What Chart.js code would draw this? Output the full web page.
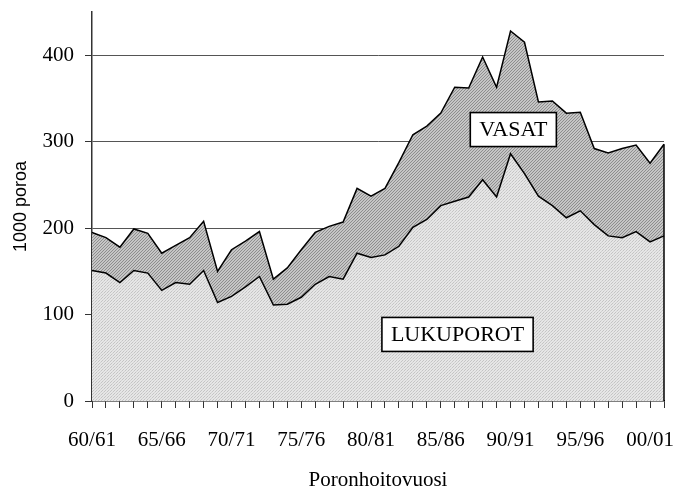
<!DOCTYPE html>
<html>
<head>
<meta charset="utf-8">
<script src="https://cdn.jsdelivr.net/npm/chart.js@4/dist/chart.umd.min.js"></script>
<style>
  html, body { margin: 0; padding: 0; background: #ffffff; }
  #wrap { width: 677px; height: 491px; }
</style>
</head>
<body>
<div id="wrap"><canvas id="c" width="677" height="491"></canvas></div>
<script>
// Poronhoitovuodet 1960/61 - 2001/02
const seasons = ['60/61','61/62','62/63','63/64','64/65','65/66','66/67','67/68','68/69','69/70',
                 '70/71','71/72','72/73','73/74','74/75','75/76','76/77','77/78','78/79','79/80',
                 '80/81','81/82','82/83','83/84','84/85','85/86','86/87','87/88','88/89','89/90',
                 '90/91','91/92','92/93','93/94','94/95','95/96','96/97','97/98','98/99','99/00',
                 '00/01','01/02'];
// Lukuporot (1000 poroa)
const lukuporot = [151,148,137,151,148,128,137,135,151,114,
                   121,132,144,111,112,120,135,144,141,171,
                   166,169,179,201,210,226,231,236,256,236,
                   286,263,237,226,212,220,204,191,189,196,
                   184,191];
// Vasat (1000 poroa), stacked on top of lukuporot
const vasat = [44,41,41,48,46,43,43,54,57,36,
               54,53,52,30,42,55,60,58,66,75,
               71,77,97,107,108,107,132,126,142,127,
               142,152,109,121,121,114,88,96,103,100,
               91,106];
const yTicks = [0,100,200,300,400];
const areaLabels = [
  { text: 'LUKUPOROT', x: 26.2, y: 77 },
  { text: 'VASAT', x: 30.2, y: 314 }
];

function makePattern(kind) {
  const t = document.createElement('canvas');
  const g = t.getContext('2d');
  if (kind === 'dots') {
    t.width = 3; t.height = 3;
    g.fillStyle = '#e6e6e6'; g.fillRect(0, 0, 3, 3);
    g.fillStyle = '#c4c4c4';
    g.fillRect(0, 0, 1, 1);
    g.fillRect(2, 1, 1, 1);
    g.fillStyle = '#d2d2d2';
    g.fillRect(1, 2, 1, 1);
  } else {
    t.width = 3; t.height = 3;
    g.fillStyle = '#c6c6c6'; g.fillRect(0, 0, 3, 3);
    g.fillStyle = '#8e8e8e';
    for (let i = 0; i < 3; i++) { g.fillRect(i, 2 - i, 1, 1); }
  }
  return g.createPattern(t, 'repeat');
}

const serif = "'Liberation Serif', 'Times New Roman', serif";

const edgePlugin = {
  id: 'edges',
  afterDatasetsDraw(chart) {
    const ctx = chart.ctx;
    const xs = chart.scales.x, ys = chart.scales.y;
    const last = seasons.length - 1;
    ctx.save();
    ctx.strokeStyle = '#000';
    ctx.lineWidth = 1.5;
    ctx.beginPath();
    const xr = xs.getPixelForValue(last);
    ctx.moveTo(xr, ys.getPixelForValue(lukuporot[last] + vasat[last]));
    ctx.lineTo(xr, ys.getPixelForValue(0));
    ctx.stroke();
    // area labels
    ctx.font = '22px ' + serif;
    ctx.textAlign = 'center';
    ctx.textBaseline = 'middle';
    areaLabels.forEach(l => {
      const cx = xs.getPixelForValue(l.x), cy = ys.getPixelForValue(l.y);
      const w = ctx.measureText(l.text).width + 18;
      const h = 34;
      ctx.fillStyle = '#fff';
      ctx.fillRect(cx - w / 2, cy - h / 2, w, h);
      ctx.lineWidth = 1.6;
      ctx.strokeStyle = '#000';
      ctx.strokeRect(cx - w / 2, cy - h / 2, w, h);
      ctx.fillStyle = '#000';
      ctx.fillText(l.text, cx, cy + 1);
    });
    ctx.restore();
  }
};

new Chart(document.getElementById('c'), {
  type: 'line',
  data: {
    labels: seasons,
    datasets: [
      {
        label: 'LUKUPOROT',
        data: lukuporot,
        fill: 'origin',
        backgroundColor: makePattern('dots'),
        borderColor: '#000',
        borderWidth: 1.5,
        pointRadius: 0,
        tension: 0
      },
      {
        label: 'VASAT',
        data: vasat,
        fill: '-1',
        backgroundColor: makePattern('hatch'),
        borderColor: '#000',
        borderWidth: 1.5,
        pointRadius: 0,
        tension: 0
      }
    ]
  },
  options: {
    responsive: false,
    animation: false,
    layout: { padding: { top: 12, right: 13, left: 0, bottom: 0 } },
    plugins: { legend: { display: false }, tooltip: { enabled: false } },
    scales: {
      x: {
        type: 'category',
        offset: false,
        afterFit(s) { s.height = 90; s.paddingLeft = 0; s.paddingRight = 0; },
        grid: { display: true, drawOnChartArea: false, drawTicks: true, tickLength: 7, color: '#333', lineWidth: 1 },
        border: { display: true, color: '#000', width: 1.5 },
        ticks: {
          autoSkip: false, maxRotation: 0, minRotation: 0, padding: 20,
          color: '#000', font: { family: serif, size: 21 },
          callback(v, i) { return i % 5 === 0 ? seasons[i] : ''; }
        },
        title: {
          display: true, text: 'Poronhoitovuosi', color: '#000',
          font: { family: serif, size: 21, lineHeight: 1.0 }, padding: { top: 0, bottom: 0 }
        }
      },
      y: {
        stacked: true,
        min: 0, max: 450,
        afterFit(s) { s.width = 92; s.paddingTop = 0; s.paddingBottom = 0; },
        afterBuildTicks(s) { s.ticks = yTicks.map(v => ({ value: v })); },
        grid: {
          color(ctx) { return ctx.tick && ctx.tick.value === 0 ? 'rgba(0,0,0,0)' : '#555'; },
          lineWidth: 1, tickLength: 7, drawTicks: true, tickColor: '#333'
        },
        border: { display: true, color: '#333', width: 1.5 },
        ticks: {
          padding: 11, color: '#000', font: { family: serif, size: 21 }
        },
        title: {
          display: true, text: '1000 poroa', color: '#000',
          font: { family: "'Liberation Sans', Arial, sans-serif", size: 18 },
          padding: { top: 10, bottom: 0 }
        }
      }
    }
  },
  plugins: [edgePlugin]
});
</script>
</body>
</html>
